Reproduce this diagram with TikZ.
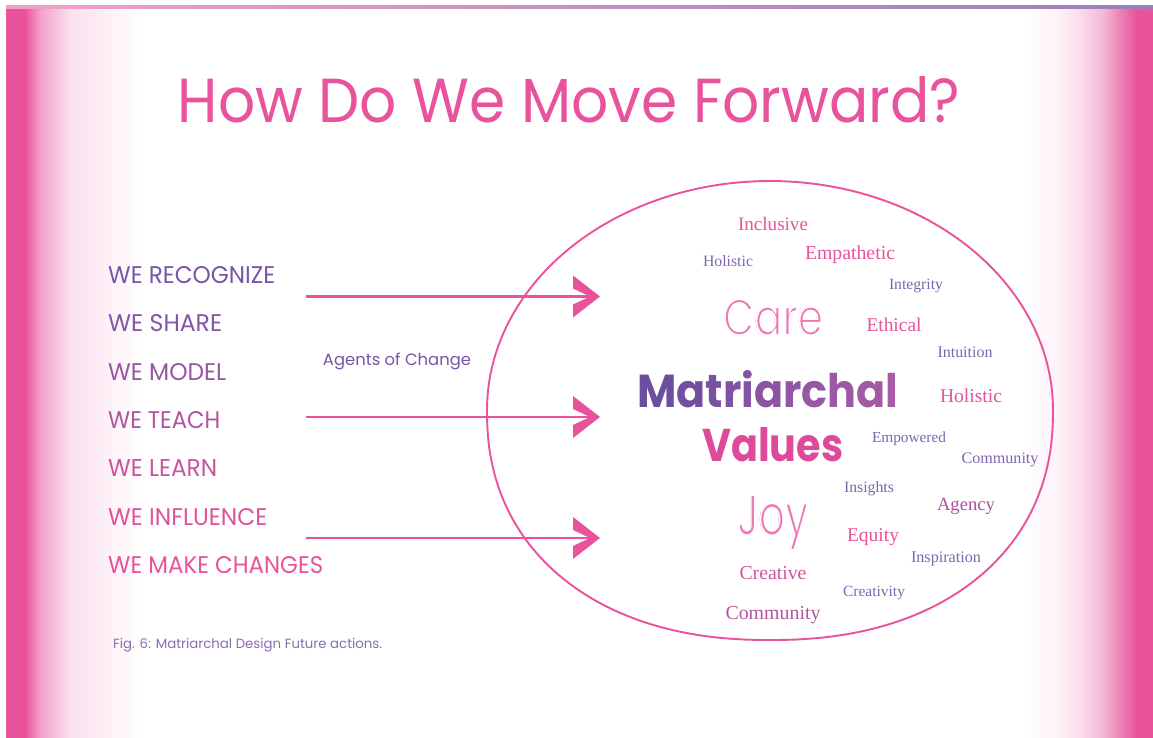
\documentclass[tikz,border=0pt]{standalone}
\usepackage{fontspec}
\setmainfont{Poppins}
\newfontfamily\serifw{Liberation Serif}
\definecolor{pk}{HTML}{E8539B}
\definecolor{pu}{HTML}{7656A6}
\definecolor{pus}{HTML}{7E66AE}
\definecolor{lpk}{HTML}{EE78B4}
\definecolor{mA}{HTML}{6C4E9E}
\definecolor{mB}{HTML}{A85BA6}
\definecolor{vpk}{HTML}{DE4A9A}
\definecolor{mag}{HTML}{B24EA0}
\definecolor{capc}{HTML}{8A6CB2}
\newcommand{\fitw}[2]{\resizebox{#1pt}{!}{#2}}
% thin look: overlay a white stroked copy that erodes the glyph edges
\newcommand{\thintext}[2]{\rlap{#2}\special{pdf:literal direct 1 Tr #1 w}\textcolor{white}{#2}\special{pdf:literal direct 0 Tr}}
\tikzset{
  vw/.style={anchor=base, inner sep=0pt, font=\serifw\fontsize{17}{17}\selectfont},
  big/.style={vw, text=pk},
  sml/.style={vw, text=pus},
  lst/.style={anchor=base west, inner sep=0pt},
  arr/.style={draw=pk, line width=2.2pt},
  ahead/.style={fill=pk},
}
\begin{document}
\begin{tikzpicture}[x=1pt,y=-1pt]
\useasboundingbox (0,0) rectangle (1153,738);
\fill[white] (0,0) rectangle (1153,738);
% left band
\fill[pk] (6,9) rectangle (25,738);
\shade[left color=pk, right color=pk!55] (25,9) rectangle (40,738);
\shade[left color=pk!55, right color=pk!18] (40,9) rectangle (70,738);
\shade[left color=pk!18, right color=white] (70,9) rectangle (140,738);
% right band
\shade[left color=white, right color=pk!8] (1023,9) rectangle (1060,738);
\shade[left color=pk!8, right color=pk!20] (1060,9) rectangle (1080,738);
\shade[left color=pk!20, right color=pk!42] (1080,9) rectangle (1103,738);
\shade[left color=pk!42, right color=pk!78] (1103,9) rectangle (1123,738);
\shade[left color=pk!78, right color=pk] (1123,9) rectangle (1137,738);
\fill[pk] (1137,9) rectangle (1153,738);
% top line
\shade[left color=pk!55, right color=pu!75] (6,6) rectangle (1153,8.5);

% title
\node[anchor=base, inner sep=0pt, text=pk] (title) at (569,123) {\resizebox{782pt}{46pt}{How Do We Move Forward?}};

% list
\node[lst, text=pk!0!pu] (l1) at (108,283.5) {\resizebox{167pt}{17pt}{WE RECOGNIZE}};
\node[lst, text=pk!12!pu] (l2) at (108,331.5) {\resizebox{114pt}{17pt}{WE SHARE}};
\node[lst, text=pk!30!pu] (l3) at (108,380.5) {\resizebox{118pt}{17pt}{WE MODEL}};
\node[lst, text=pk!52!pu] (l4) at (108,428.5) {\resizebox{112pt}{17pt}{WE TEACH}};
\node[lst, text=pk!74!pu] (l5) at (108,476.5) {\resizebox{109pt}{17pt}{WE LEARN}};
\node[lst, text=pk!92!pu] (l6) at (108,525.5) {\resizebox{159pt}{17pt}{WE INFLUENCE}};
\node[lst, text=pk] (l7) at (108,573.5) {\resizebox{215pt}{17pt}{WE MAKE CHANGES}};

\node[anchor=base, inner sep=0pt, text=pu] (agents) at (397,365) {\fitw{148}{Agents of Change}};
\node[anchor=base west, inner sep=0pt, text=capc] (cap) at (113,648) {\fitw{269}{Fig. 6: Matriarchal Design Future actions.}};

% oval
\coordinate (oc) at (770,410);
\draw[pk, line width=1.9pt]
  plot[domain=0:180, samples=120, variable=\t]
    ({770+283*sign(cos(\t))*(abs(cos(\t))+0.000001)^0.9}, {410+230*(abs(sin(\t))+0.000001)^0.9})
  -- plot[domain=180:360, samples=120, variable=\t]
    ({770+283*cos(\t)}, {410+229*sin(\t)}) -- cycle;

% arrows
\coordinate (s1) at (306,296.5); \coordinate (e1) at (600,296.5);
\coordinate (s2) at (306,417);   \coordinate (e2) at (600,417);
\coordinate (s3) at (306,538);   \coordinate (e3) at (600,538);
\foreach \i in {1,2,3}{
  \draw[arr] (s\i) -- ([xshift=-8pt]e\i);
  \fill[ahead, shift={(e\i)}] (0,0) -- (-27,-21) -- (-27,-8) -- (-10,0) -- (-27,8) -- (-27,21) -- cycle;
}

% central words
\node[anchor=base west, inner sep=0pt] (matr) at (637,407) {\resizebox{261pt}{37pt}{\bfseries
  \textcolor{mB!0!mA}{M}\textcolor{mB!10!mA}{a}\textcolor{mB!20!mA}{t}\textcolor{mB!30!mA}{r}\textcolor{mB!40!mA}{i}\textcolor{mB!50!mA}{a}\textcolor{mB!60!mA}{r}\textcolor{mB!70!mA}{c}\textcolor{mB!80!mA}{h}\textcolor{mB!90!mA}{a}\textcolor{mB!100!mA}{l}}};
\node[anchor=base west, inner sep=0pt, text=vpk] (vals) at (702,461) {\resizebox{141pt}{34pt}{\bfseries Values}};

% value words
\node[big] (w1) at (773,230) {\fitw{70}{Inclusive}};
\node[sml] (w2) at (728,266) {\fitw{50}{Holistic}};
\node[big] (w3) at (850,259) {\fitw{90}{Empathetic}};
\node[sml] (w4) at (916,289) {\fitw{54}{Integrity}};
\node[big] (w5) at (894,331) {\fitw{55}{Ethical}};
\node[sml] (w6) at (965,357) {\fitw{55}{Intuition}};
\node[big] (w7) at (971,402) {\fitw{62}{Holistic}};
\node[sml] (w8) at (909,442) {\fitw{74}{Empowered}};
\node[sml] (w9) at (1000,463) {\fitw{77}{Community}};
\node[sml] (w10) at (869,492) {\fitw{50}{Insights}};
\node[vw, text=mag] (w11) at (966,510) {\fitw{58}{Agency}};
\node[big] (w12) at (873,541) {\fitw{52}{Equity}};
\node[sml] (w13) at (946,562) {\fitw{70}{Inspiration}};
\node[vw, text=pk!80!pu] (w14) at (773,579) {\fitw{67}{Creative}};
\node[sml] (w15) at (874,596) {\fitw{62}{Creativity}};
\node[vw, text=pk!55!pu] (w16) at (773,619) {\fitw{95}{Community}};

% thin display words
\node[anchor=base west, inner sep=0pt, text=lpk] (care) at (723,335) {\resizebox{100pt}{36pt}{\thintext{0.38}{Care}}};
\node[anchor=base west, inner sep=0pt, text=lpk] (joy) at (737,535) {\resizebox{71pt}{40pt}{\thintext{0.34}{Joy}}};
\end{tikzpicture}
\end{document}
